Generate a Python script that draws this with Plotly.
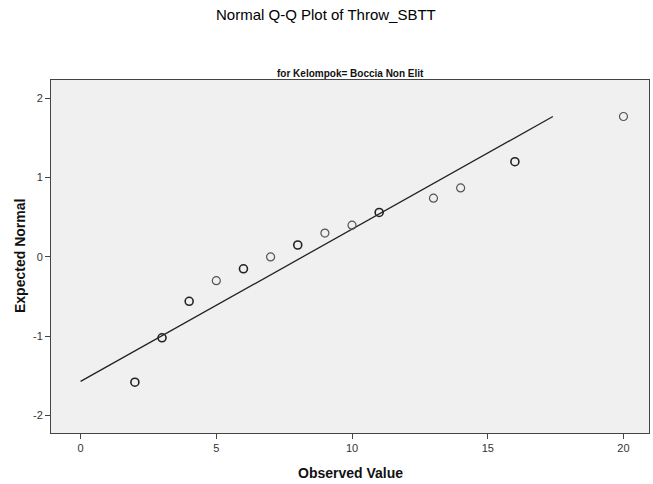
import plotly.graph_objects as go

obs_x = [2, 3, 4, 5, 6, 7, 8, 9, 10, 11, 13, 14, 16, 20]
exp_y = [-1.58, -1.02, -0.56, -0.30, -0.15, 0.0, 0.15, 0.30, 0.40, 0.56, 0.74, 0.87, 1.20, 1.77]
tied = [True, True, True, False, True, False, True, False, False, True, False, False, True, False]

# Reference line (normal fit) endpoints
line_x = [0, 17.4]
line_y = [-1.57, 1.77]

x_ticks = [0, 5, 10, 15, 20]
y_ticks = [-2, -1, 0, 1, 2]
y_tick_labels = ["-2", "-1", "0", "1", "2"]

colors = ["#222222" if t else "#555555" for t in tied]
widths = [1.6 if t else 1.2 for t in tied]

W, H = 653, 484
L, R, T, B = 51, 4, 80, 51

fig = go.Figure()
fig.add_trace(go.Scatter(x=line_x, y=line_y, mode="lines",
                         line=dict(color="#222222", width=1.3),
                         hoverinfo="skip", showlegend=False))
fig.add_trace(go.Scatter(x=obs_x, y=exp_y, mode="markers",
                         marker=dict(symbol="circle-open", size=8,
                                     color=colors, line=dict(width=widths, color=colors)),
                         showlegend=False))

ph = H - T - B
pw = W - L - R
fig.update_layout(
    width=W, height=H,
    margin=dict(l=L, r=R, t=T, b=B, autoexpand=False),
    paper_bgcolor="white", plot_bgcolor="#F0F0F0",
    font=dict(family="Liberation Sans, Arial, sans-serif", color="#222222"),
    annotations=[
        dict(text="Normal Q-Q Plot of Throw_SBTT", xref="paper", yref="paper",
             x=(326 - L) / pw, y=1 + (T - 15) / ph, xanchor="center", yanchor="middle",
             showarrow=False, font=dict(size=15, color="#000000")),
        dict(text="<b>for Kelompok= Boccia Non Elit</b>", xref="paper", yref="paper",
             x=0.5, y=1 + (T - 73) / ph, xanchor="center", yanchor="middle", showarrow=False,
             font=dict(family="Liberation Sans Narrow, Arial Narrow, Liberation Sans, Arial",
                       size=10, color="#111111")),
        dict(text="<b>Observed Value</b>", xref="paper", yref="paper",
             x=0.5, y=-(473 - (H - B)) / ph, xanchor="center", yanchor="middle", showarrow=False,
             font=dict(size=14, color="#111111")),
        dict(text="<b>Expected Normal</b>", xref="paper", yref="paper",
             x=-(L - 20) / pw, y=(H - B - 256) / ph, xanchor="center", yanchor="middle",
             showarrow=False, textangle=-90, font=dict(size=14, color="#111111")),
    ],
)
fig.update_xaxes(range=[-1.09, 20.94], tickvals=x_ticks, ticks="outside", ticklen=5,
                 tickcolor="#444444", showgrid=False, zeroline=False, automargin=False,
                 showline=True, linecolor="#444444", linewidth=1, mirror=True,
                 tickfont=dict(size=11, color="#333333"))
fig.update_yaxes(range=[-2.22, 2.23], tickvals=y_ticks, ticktext=y_tick_labels,
                 ticks="outside", ticklen=5,
                 tickcolor="#444444", showgrid=False, zeroline=False, automargin=False,
                 showline=True, linecolor="#444444", linewidth=1, mirror=True,
                 tickfont=dict(size=11, color="#333333"))

fig.write_html("out.html", config={"displayModeBar": False},
               post_script="document.body.style.margin='0px';document.body.style.overflow='hidden';")
